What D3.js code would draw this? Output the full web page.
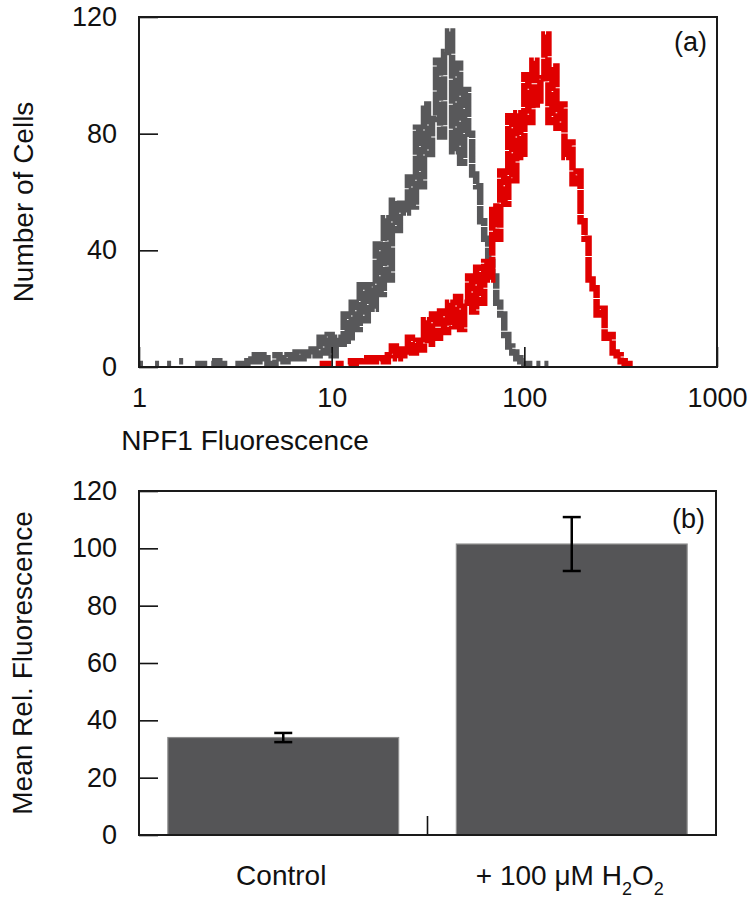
<!DOCTYPE html>
<html><head><meta charset="utf-8">
<script src="https://cdn.jsdelivr.net/npm/d3@7"></script>
<style>
body{margin:0;background:#fff}
svg{display:block}
text{font-family:Arial,"Liberation Sans",Helvetica,sans-serif;fill:#111}
</style>
</head><body>
<svg id="c" width="750" height="906"></svg>
<script>
// ---------- Panel (a): flow cytometry histograms ----------
const binsPerDecade = 48;             // channel resolution of the log axis
const controlStartBin = 0;            // first channel of control histogram (value 1)
const controlCounts = [
  1,null,null,null,1,null,null,1,null,null,
  2,null,null,null,1,1,1,null,1,2,
  1,1,null,null,1,1,1,2,4,2,
  4,3,1,1,4,3,2,4,3,5,
  3,5,4,6,4,10,5,11,4,10,
  8,18,9,22,13,28,16,28,20,42,
  25,51,30,57,47,56,53,65,55,82,
  62,90,73,85,105,79,108,115,74,104,
  70,95,80,66,62,50,44,36,31,22,
  18,11,7,5,3,2,1,1,null,1,
  null,1
];
const h2o2StartBin = 45;              // first channel of H2O2 histogram
const h2o2Counts = [
  1,1,1,null,1,1,null,2,1,2,
  2,3,2,3,2,3,2,4,7,3,
  6,4,10,5,9,6,16,8,18,10,
  19,12,22,14,24,13,22,31,19,34,
  22,36,30,55,44,67,56,86,64,87,
  72,100,84,105,90,99,114,84,103,82,
  90,72,77,63,67,50,44,30,27,18,
  20,10,11,5,4,2,1,1
];
const histXTicks = [1, 10, 100, 1000];
const histYTicks = [0, 40, 80, 120];
const seriesColors = ["#58585a", "#e00000"];

// ---------- Panel (b): bar chart ----------
const barCategories = ["Control", "+ 100 μM H2O2"];
const barMeans = [34, 101.5];
const barErrors = [1.6, 9.4];
const barYTicks = [0, 20, 40, 60, 80, 100, 120];

const svg = d3.select("#c");

// ===== Panel (a) =====
const A = {left:139, right:717, top:17, bottom:367};
const xA = d3.scaleLog().domain([1, 1000]).range([A.left, A.right]);
const yA = d3.scaleLinear().domain([0, 120]).range([A.bottom, A.top]);

function stepPoints(start, counts){
  const pts = [];
  counts.forEach((c, k) => {
    const i = start + k;
    const lo = Math.pow(10, i / binsPerDecade), hi = Math.pow(10, (i + 1) / binsPerDecade);
    pts.push({x:lo, y:c}, {x:hi, y:c});
  });
  return pts;
}
const lineA = d3.line().defined(d => d.y != null).x(d => xA(d.x)).y(d => yA(d.y));

const gA = svg.append("g");
[[controlStartBin, controlCounts], [h2o2StartBin, h2o2Counts]].forEach(([s, c], idx) => {
  gA.append("path")
    .attr("d", lineA(stepPoints(s, c)))
    .attr("fill", "none")
    .attr("stroke", seriesColors[idx])
    .attr("stroke-width", 6.5)
    .attr("stroke-linecap", "butt")
    .attr("stroke-linejoin", "miter")
    .attr("stroke-dasharray", "24 1");
});

const axYA = svg.append("g").attr("transform", `translate(${A.left},0)`)
  .call(d3.axisLeft(yA).tickValues(histYTicks).tickSize(-19).tickPadding(22).tickFormat(d3.format("d")));
const axXA = svg.append("g").attr("transform", `translate(0,${A.bottom})`)
  .call(d3.axisBottom(xA).tickValues(histXTicks).tickSize(-20).tickPadding(21).tickFormat(d3.format("d")));
[axYA, axXA].forEach(g => {
  g.select(".domain").remove();
  g.selectAll(".tick line").attr("stroke", "#111").attr("stroke-width", 1.6);
  g.selectAll(".tick text").attr("font-size", 27).attr("fill", "#111")
    .attr("font-family", "Arial, 'Liberation Sans', sans-serif");
});
svg.append("rect").attr("x", A.left).attr("y", A.top)
  .attr("width", A.right - A.left).attr("height", A.bottom - A.top)
  .attr("fill", "none").attr("stroke", "#1a1a1a").attr("stroke-width", 2);

svg.append("text").attr("x", 245).attr("y", 450).attr("text-anchor", "middle")
  .attr("font-size", 28).text("NPF1 Fluorescence");
svg.append("text").attr("transform", `translate(33,${(A.top + A.bottom) / 2 + 10}) rotate(-90)`)
  .attr("text-anchor", "middle").attr("font-size", 28).text("Number of Cells");
svg.append("text").attr("x", 707).attr("y", 51).attr("text-anchor", "end")
  .attr("font-size", 27).text("(a)");

// ===== Panel (b) =====
const B = {left:139, right:716, top:491, bottom:835};
const xB = d3.scaleBand().domain(barCategories).range([B.left, B.right]).padding(0);
const yB = d3.scaleLinear().domain([0, 120]).range([B.bottom, B.top]);
const barW = xB.bandwidth() * 0.8;

const gB = svg.append("g");
gB.selectAll("rect.bar").data(barCategories).join("rect")
  .attr("class", "bar")
  .attr("x", d => xB(d) + (xB.bandwidth() - barW) / 2)
  .attr("y", (d, i) => yB(barMeans[i]))
  .attr("width", barW)
  .attr("height", (d, i) => yB(0) - yB(barMeans[i]))
  .attr("fill", "#555557")
  .attr("stroke", "#8e8e8e").attr("stroke-width", 1.2);

barCategories.forEach((c, i) => {
  const cx = xB(c) + xB.bandwidth() / 2;
  const y1 = yB(barMeans[i] + barErrors[i]), y0 = yB(barMeans[i] - barErrors[i]);
  gB.append("line").attr("x1", cx).attr("x2", cx).attr("y1", y1).attr("y2", y0)
    .attr("stroke", "#000").attr("stroke-width", 2.5);
  [y1, y0].forEach(y => gB.append("line").attr("x1", cx - 9).attr("x2", cx + 9)
    .attr("y1", y).attr("y2", y).attr("stroke", "#000").attr("stroke-width", 2.5));
});

const axYB = svg.append("g").attr("transform", `translate(${B.left},0)`)
  .call(d3.axisLeft(yB).tickValues(barYTicks).tickSize(-19).tickPadding(22).tickFormat(d3.format("d")));
axYB.select(".domain").remove();
axYB.selectAll(".tick line").attr("stroke", "#111").attr("stroke-width", 1.6);
axYB.selectAll(".tick text").attr("font-size", 27).attr("fill", "#111")
  .attr("font-family", "Arial, 'Liberation Sans', sans-serif");

// middle category separator tick
svg.append("line").attr("x1", xB(barCategories[1])).attr("x2", xB(barCategories[1]))
  .attr("y1", B.bottom).attr("y2", B.bottom - 19).attr("stroke", "#111").attr("stroke-width", 1.6);

svg.append("rect").attr("x", B.left).attr("y", B.top)
  .attr("width", B.right - B.left).attr("height", B.bottom - B.top)
  .attr("fill", "none").attr("stroke", "#1a1a1a").attr("stroke-width", 2);

// category labels with chemical subscripts (digit directly after an element letter)
barCategories.forEach(c => {
  const cx = xB(c) + xB.bandwidth() / 2 - 2;
  const t = svg.append("text").attr("x", cx).attr("y", 885).attr("text-anchor", "middle").attr("font-size", 28);
  const re = /([A-Z])(\d)/g;
  let last = 0, m;
  const tokens = [];
  while ((m = re.exec(c)) !== null) {
    tokens.push({s: c.slice(last, m.index + 1), sub: false});
    tokens.push({s: m[2], sub: true});
    last = m.index + 2;
  }
  tokens.push({s: c.slice(last), sub: false});
  let prevSub = false;
  tokens.filter(tk => tk.s.length).forEach(tk => {
    t.append("tspan").text(tk.s)
      .attr("font-size", tk.sub ? 18 : 28)
      .attr("dy", tk.sub ? (prevSub ? 0 : 10) : (prevSub ? -10 : 0));
    prevSub = tk.sub;
  });
});

svg.append("text").attr("transform", `translate(32,${(B.top + B.bottom) / 2}) rotate(-90)`)
  .attr("text-anchor", "middle").attr("font-size", 28).text("Mean Rel. Fluorescence");
svg.append("text").attr("x", 705).attr("y", 528).attr("text-anchor", "end")
  .attr("font-size", 27).text("(b)");
</script>
</body></html>
